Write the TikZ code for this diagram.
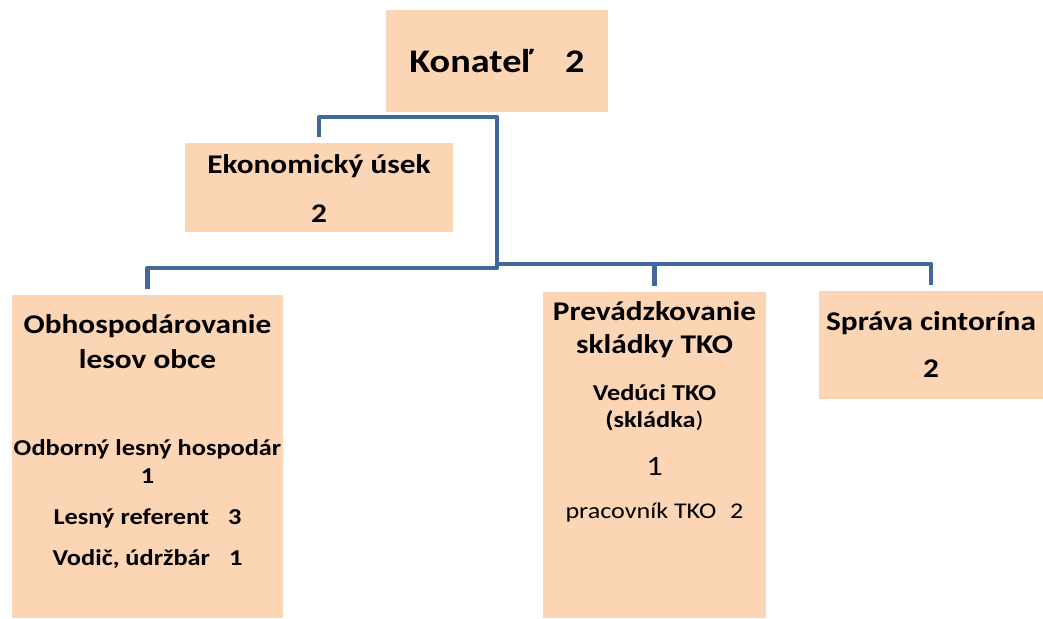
\documentclass[tikz,border=0pt]{standalone}
\usepackage{fontspec}
\setmainfont{Carlito}[FakeStretch=1.16]
\usepackage{tikz}

\definecolor{boxfill}{RGB}{252,213,181}
\definecolor{linkblue}{RGB}{65,104,155}

\newcommand{\toptitle}{\fontsize{33}{39}\selectfont\bfseries}
\newcommand{\boxhead}{\fontsize{27}{32}\selectfont\bfseries}
\newcommand{\boxsub}{\fontsize{22.7}{27}\selectfont\bfseries}
\newcommand{\boxplain}{\fontsize{22.5}{27}\selectfont}

\begin{document}
\begin{tikzpicture}[x=1pt,y=-1pt,
    unit/.style={fill=boxfill,inner sep=0pt,anchor=north west},
    txt/.style={inner sep=0pt,anchor=base},
    link/.style={draw=linkblue,line width=4.5pt,line join=round}]

\useasboundingbox (0,0) rectangle (1043,618);

% boxes
\node[unit,minimum width=222pt,minimum height=102pt] (kon) at (386,10) {};
\node[unit,minimum width=268pt,minimum height=89pt] (ekon) at (185,143) {};
\node[unit,minimum width=271pt,minimum height=323pt] (lesy) at (12,295) {};
\node[unit,minimum width=223pt,minimum height=326pt] (prev) at (543,292) {};
\node[unit,minimum width=224pt,minimum height=108pt] (sprava) at (819,291) {};

% connectors
\coordinate (hub) at (497,117);
\coordinate (midL) at (497,268);
\coordinate (midR) at (497,264);

\draw[link] ([yshift=6pt]ekon.north) |- (hub) -- (midL) -| ([yshift=6pt]lesy.north);

\foreach \b in {prev,sprava}
    \draw[link] (midR) -| ([yshift=6.5pt]\b.north);

% texts
\node[txt] (t-kon) at (497,72) {\toptitle Konateľ\hspace{32pt}2};

\node[txt] (t-ekon) at (319,173) {\boxhead Ekonomický úsek};
\node[txt] (n-ekon) at (319,222) {\boxhead 2};

\node[txt] (t-lesy1) at (147.5,333) {\boxhead Obhospodárovanie};
\node[txt] (t-lesy2) at (147.5,368) {\boxhead lesov obce};
\node[txt] (s-lesy1) at (147.5,455) {\boxsub Odborný lesný hospodár};
\node[txt] (n-lesy1) at (147.5,483) {\boxsub 1};
\node[txt] (s-lesy2) at (147.5,524) {\boxsub Lesný referent\hspace{13pt} 3};
\node[txt] (s-lesy3) at (147.5,565) {\boxsub Vodič, údržbár\hspace{13pt} 1};

\node[txt] (t-prev1) at (654.5,320) {\boxhead Prevádzkovanie};
\node[txt] (t-prev2) at (654.5,353) {\boxhead skládky TKO};
\node[txt] (s-prev1) at (654.5,400) {\boxsub Vedúci TKO};
\node[txt] (s-prev2) at (654.5,427) {\boxsub (skládka\textmd{)}};
\node[txt] (n-prev1) at (654.5,475) {\fontsize{28}{33}\selectfont 1};
\node[txt] (s-prev3) at (654.5,518) {\boxplain pracovník TKO\hspace{8pt} 2};

\node[txt] (t-sprava) at (931,330) {\boxhead Správa cintorína};
\node[txt] (n-sprava) at (931,377) {\boxhead 2};

\end{tikzpicture}
\end{document}
